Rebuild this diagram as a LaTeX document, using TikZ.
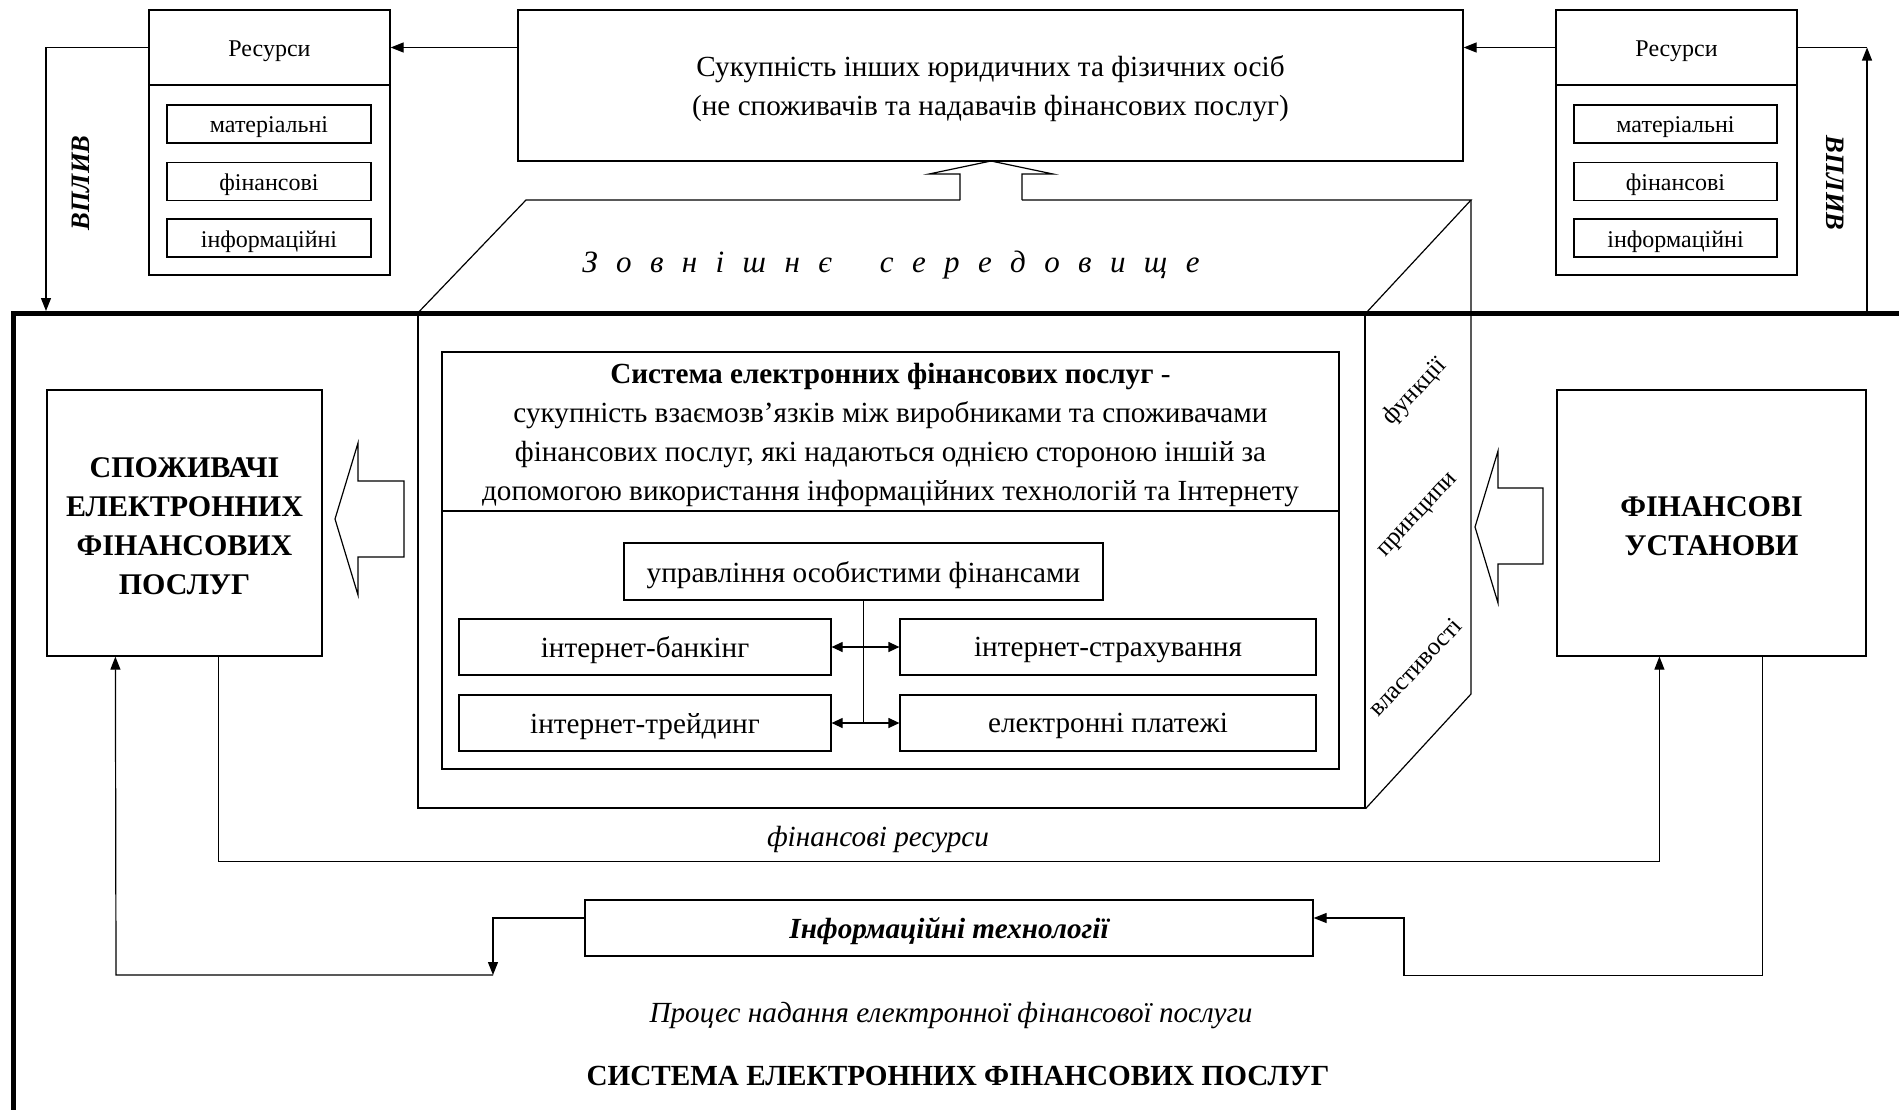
\documentclass[tikz,border=0pt]{standalone}
\usepackage{fontspec}
\setmainfont{Liberation Serif}
\usetikzlibrary{arrows.meta,calc}
\newcommand\lsp{\hspace{9.2pt}}
\newcommand\wsp{\hspace{24pt}}
\begin{document}
\begin{tikzpicture}[x=0.5pt,y=-0.5pt,
  box/.style={draw, line width=0.6pt, inner sep=0pt},
  txt/.style={inner sep=0pt, align=center, yshift=-1.7pt, font=\fontsize{14.6}{19.4}\selectfont},
  rtxt/.style={txt, font=\fontsize{12}{14}\selectfont},
  arr/.style={line width=0.6pt, -{Triangle[length=6.5pt,width=5pt]}},
  dbl/.style={line width=0.6pt, {Triangle[length=5.5pt,width=5pt]}-{Triangle[length=5.5pt,width=5pt]}},
  ln/.style={line width=0.6pt},
  lbl/.style={inner sep=0pt, align=center},
  hollow/.style={line width=0.6pt, line join=miter},
]
\useasboundingbox (0,0) rectangle (1899,1109);

% outer frame
\draw[line width=2.5pt, line join=miter] (13,1125) -- (13,313) -- (1901,313) -- (1901,1125);

% resources left
\node[box, minimum width=120.5pt, minimum height=37.5pt] (resLh) at (269.5,47.5) {};
\node[rtxt] (resLhT) at (resLh.center) {Ресурси};
\node[box, minimum width=120.5pt, minimum height=95pt] (resLb) at (269.5,180) {};
\node[box, minimum width=102pt, minimum height=19pt] (mL) at (269,124) {};
\node[rtxt] (mLT) at (mL.center) {матеріальні};
\node[box, minimum width=102pt, minimum height=19pt] (fL) at (269,181.5) {};
\node[rtxt] (fLT) at (fL.center) {фінансові};
\node[box, minimum width=102pt, minimum height=19pt] (iL) at (269,238) {};
\node[rtxt] (iLT) at (iL.center) {інформаційні};

% resources right
\node[box, minimum width=120.5pt, minimum height=37.5pt] (resRh) at (1676.5,47.5) {};
\node[rtxt] (resRhT) at (resRh.center) {Ресурси};
\node[box, minimum width=120.5pt, minimum height=95pt] (resRb) at (1676.5,180) {};
\node[box, minimum width=101.5pt, minimum height=19pt] (mR) at (1675.5,124) {};
\node[rtxt] (mRT) at (mR.center) {матеріальні};
\node[box, minimum width=101.5pt, minimum height=19pt] (fR) at (1675.5,181.5) {};
\node[rtxt] (fRT) at (fR.center) {фінансові};
\node[box, minimum width=101.5pt, minimum height=19pt] (iR) at (1675.5,238) {};
\node[rtxt] (iRT) at (iR.center) {інформаційні};

% top box
\node[box, minimum width=472.5pt, minimum height=75.5pt] (top) at (990.5,85.5) {};
\node[txt] (topT) at (top.center)
  {Сукупність інших юридичних та фізичних осіб\\(не споживачів та надавачів фінансових послуг)};

% connectors top
\draw[arr] (resLh.east -| top.west) -- (resLh.east);
\draw[arr] (resRh.west) -- (resRh.west -| top.east);
\coordinate (vL) at (46,311);
\draw[arr] (resLh.west) -| (vL);
\coordinate (vR) at (1867,311);
\coordinate (cR) at (1867,47.5);
\draw[arr] (vR) -- (cR);
\draw[ln] (resRh.east) -- (cR);

\node[lbl, rotate=90, font=\fontsize{13.3}{16}\selectfont\bfseries\itshape] (vplL) at (81,183) {ВПЛИВ};
\node[lbl, rotate=-90, font=\fontsize{13.3}{16}\selectfont\bfseries\itshape] (vplR) at (1835,183) {ВПЛИВ};

% 3D box
\node[box, minimum width=473.5pt, minimum height=247pt] (front) at (891.5,561) {};
\draw[ln] (front.north west) -- (526,200) -- (960,200);
\draw[ln] (1022,200) -- (1471,200) -- (front.north east);
\draw[ln] (1471,200) -- (1471,694) -- (front.south east);
\draw[hollow] (960,200) -- (960,174) -- (929,174) -- (991,161) -- (1053,174) -- (1022,174) -- (1022,200);

\node[lbl, font=\fontsize{15.5}{18}\selectfont\itshape] (env) at (891,265)
  {З\lsp о\lsp в\lsp н\lsp і\lsp ш\lsp н\lsp є\wsp с\lsp е\lsp р\lsp е\lsp д\lsp о\lsp в\lsp и\lsp щ\lsp е};

\node[lbl, rotate=47, font=\fontsize{12.5}{15}\selectfont] (fun) at (1415,392) {функції};
\node[lbl, rotate=47, font=\fontsize{12.5}{15}\selectfont] (pri) at (1419,516) {принципи};
\node[lbl, rotate=47, font=\fontsize{12.5}{15}\selectfont] (vla) at (1415,667) {властивості};

% inner system box
\node[box, minimum width=448.5pt, minimum height=79.5pt] (def) at (890.5,431.5) {};
\node[txt] (defT) at (def.center)
  {\textbf{Система електронних фінансових послуг} -\\
   сукупність взаємозв’язків між виробниками та споживачами\\
   фінансових послуг, які надаються однією стороною іншій за\\
   допомогою використання інформаційних технологій та Інтернету};
\node[box, minimum width=448.5pt, minimum height=129pt] (svc) at (890.5,640) {};

\node[box, minimum width=239.5pt, minimum height=28.5pt] (upr) at (863.5,571.5) {};
\node[txt] (uprT) at (upr.center) {управління особистими фінансами};
\node[box, minimum width=186pt, minimum height=28pt] (bank) at (645,647) {};
\node[txt] (bankT) at (bank.center) {інтернет-банкінг};
\node[box, minimum width=186pt, minimum height=28pt] (trade) at (645,723) {};
\node[txt] (tradeT) at (trade.center) {інтернет-трейдинг};
\node[box, minimum width=208pt, minimum height=28pt] (ins) at (1108,647) {};
\node[txt] (insT) at (ins.center) {інтернет-страхування};
\node[box, minimum width=208pt, minimum height=28pt] (pay) at (1108,723) {};
\node[txt] (payT) at (pay.center) {електронні платежі};

\draw[ln] (upr.south) -- (upr.south |- pay.west);
\draw[dbl] (bank.east) -- (ins.west);
\draw[dbl] (trade.east) -- (pay.west);

% side boxes
\node[box, minimum width=137.5pt, minimum height=133pt] (cons) at (184.5,523) {};
\node[txt, font=\fontsize{15}{19.4}\selectfont\bfseries] (consT) at (cons.center)
  {СПОЖИВАЧІ\\ЕЛЕКТРОННИХ\\ФІНАНСОВИХ\\ПОСЛУГ};
\node[box, minimum width=154.5pt, minimum height=133pt] (fin) at (1711.5,523) {};
\node[txt, font=\fontsize{15}{19.5}\selectfont\bfseries] (finT) at (fin.center)
  {ФІНАНСОВІ\\УСТАНОВИ};

\draw[hollow] (404,481) -- (358,481) -- (358,443) -- (335,519) -- (358,595) -- (358,557) -- (404,557) -- cycle;
\draw[hollow] (1543,488) -- (1498,488) -- (1498,451) -- (1475,527) -- (1498,603) -- (1498,564) -- (1543,564) -- cycle;

% bottom flows
\node[box, minimum width=364pt, minimum height=28pt] (it) at (949,928) {};
\node[txt, font=\fontsize{14.6}{18}\selectfont\bfseries\itshape] (itT) at (it.center) {Інформаційні технології};

\draw[arr] ($(cons.south west)+(172,0)$) -- ++(0,205) -| ($(fin.south west)+(103,0)$);
\node[txt, font=\fontsize{14.6}{18}\selectfont\itshape] (finres) at (878,836) {фінансові ресурси};

\draw[arr] ($(fin.south west)+(206,0)$) -- ++(0,319) -| (1404,918) -- ($(it.east)+(0,-10)$);
\coordinate (cL) at (493,975);
\draw[arr] ($(it.west)+(0,-10)$) -| (cL);
\draw[arr] (cL) -- (116,975) -- ($(cons.south west)+(69,0)$);

\node[txt, font=\fontsize{14.6}{18}\selectfont\itshape] (proc) at (951,1012) {Процес надання електронної фінансової послуги};
\node[txt, font=\fontsize{14.6}{18}\selectfont\bfseries] (title) at (958,1073) {СИСТЕМА ЕЛЕКТРОННИХ ФІНАНСОВИХ ПОСЛУГ};

\end{tikzpicture}
\end{document}
